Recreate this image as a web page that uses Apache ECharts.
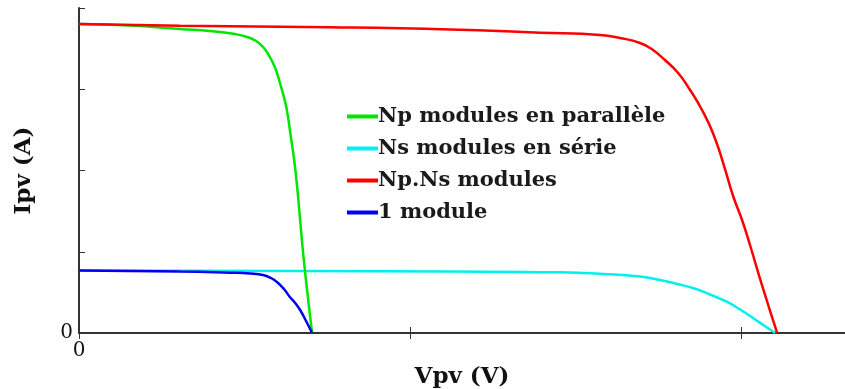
<!DOCTYPE html>
<html>
<head>
<meta charset="utf-8">
<script src="https://cdn.jsdelivr.net/npm/echarts@6/dist/echarts.min.js"></script>
<style>html,body{margin:0;padding:0;background:#fff}#c{width:845px;height:389px}</style>
</head>
<body>
<div id="c"></div>
<script>
// Series names (legend order)
const seriesNames = ['Np modules en parallèle', 'Ns modules en série', 'Np.Ns modules', '1 module'];
// Np modules en parallèle (green)
const npV = [0, 0.154, 0.305, 0.411, 0.471, 0.508, 0.535, 0.556, 0.571, 0.586, 0.598, 0.607, 0.619, 0.628, 0.640, 0.650, 0.659, 0.668, 0.677, 0.689, 0.704];
const npI = [3.803, 3.785, 3.742, 3.711, 3.680, 3.643, 3.594, 3.520, 3.434, 3.323, 3.200, 3.077, 2.905, 2.745, 2.412, 2.129, 1.797, 1.391, 0.985, 0.529, 0];
// Ns modules en série (cyan)
const nsV = [0, 0.668, 1.121, 1.453, 1.604, 1.695, 1.755, 1.807, 1.855, 1.906, 1.958, 1.997, 2.036, 2.069, 2.103];
const nsI = [0.769, 0.763, 0.757, 0.747, 0.722, 0.695, 0.652, 0.603, 0.554, 0.474, 0.382, 0.289, 0.185, 0.092, 0];
// Np.Ns modules (red)
const npnsV = [0, 0.305, 0.758, 1.121, 1.393, 1.574, 1.634, 1.695, 1.734, 1.770, 1.810, 1.846, 1.882, 1.915, 1.946, 1.976, 2.003, 2.027, 2.063, 2.109];
const npnsI = [3.803, 3.782, 3.763, 3.735, 3.696, 3.668, 3.631, 3.569, 3.483, 3.360, 3.200, 2.991, 2.745, 2.462, 2.092, 1.686, 1.391, 1.083, 0.591, 0];
// 1 module (blue)
const oneV = [0, 0.305, 0.456, 0.517, 0.556, 0.580, 0.598, 0.619, 0.637, 0.653, 0.668, 0.686, 0.704];
const oneI = [0.769, 0.757, 0.742, 0.732, 0.714, 0.677, 0.628, 0.542, 0.443, 0.369, 0.283, 0.148, 0];

const zip = (a, b) => a.map((v, i) => [v, b[i]]);
const font = '"DejaVu Serif", "Liberation Serif", serif';
const axisCol = '#333';

const chart = echarts.init(document.getElementById('c'));
chart.setOption({
  animation: false,
  backgroundColor: '#fff',
  grid: { left: 79, top: 8, right: 0, bottom: 56, containLabel: false, outerBoundsMode: 'none' },
  legend: {
    orient: 'vertical',
    left: 342, top: 101,
    itemWidth: 31, itemHeight: 4, itemGap: 11,
    icon: 'rect',
    data: seriesNames,
    textStyle: { fontFamily: font, fontSize: 21, fontWeight: 'bold', color: '#1a1a1a', padding: [0,0,0,-5] }
  },
  xAxis: [{
    type: 'value', min: 0, max: 2.314, interval: 1,
    name: 'Vpv (V)', nameLocation: 'middle', nameGap: 31,
    nameTextStyle: { fontFamily: font, fontSize: 23, fontWeight: 'bold', color: '#111' },
    axisLine: { show: true, onZero: false, lineStyle: { color: axisCol, width: 2 } },
    axisTick: { show: true, inside: true, length: 6, lineStyle: { color: axisCol } },
    axisLabel: { fontFamily: font, fontSize: 20, color: '#111', margin: 8, showMaxLabel: false,
      formatter: v => v === 0 ? '0' : '' },
    splitLine: { show: false }
  }, {
    type: 'value', position: 'top', min: 0, max: 2.314, interval: 1,
    axisLine: { show: true, lineStyle: { color: axisCol, width: 2 } },
    axisTick: { show: true, inside: true, length: 6, lineStyle: { color: axisCol } },
    axisLabel: { show: false },
    splitLine: { show: false }
  }],
  yAxis: {
    type: 'value', min: 0, max: 4, interval: 1,
    name: 'Ipv (A)', nameLocation: 'middle', nameGap: 43,
    nameTextStyle: { fontFamily: font, fontSize: 23, fontWeight: 'bold', color: '#111' },
    axisLine: { show: true, onZero: false, lineStyle: { color: axisCol, width: 2 } },
    axisTick: { show: true, inside: true, length: 6, lineStyle: { color: axisCol } },
    axisLabel: { fontFamily: font, fontSize: 20, color: '#111', margin: 6,
      formatter: v => v === 0 ? '0' : '' },
    splitLine: { show: false }
  },
  series: [
    { name: seriesNames[0], type: 'line', data: zip(npV, npI), color: '#00e600', z: 3,
      smooth: 0.5, showSymbol: false, lineStyle: { width: 2.5 } },
    { name: seriesNames[1], type: 'line', data: zip(nsV, nsI), color: '#00f0f0', z: 2,
      smooth: 0.5, showSymbol: false, lineStyle: { width: 2.5 } },
    { name: seriesNames[2], type: 'line', data: zip(npnsV, npnsI), color: '#ff0000', z: 4,
      smooth: 0.5, showSymbol: false, lineStyle: { width: 2.5 } },
    { name: seriesNames[3], type: 'line', data: zip(oneV, oneI), color: '#0000f0', z: 5,
      smooth: 0.5, showSymbol: false, lineStyle: { width: 2.5 } }
  ]
});
</script>
</body>
</html>
